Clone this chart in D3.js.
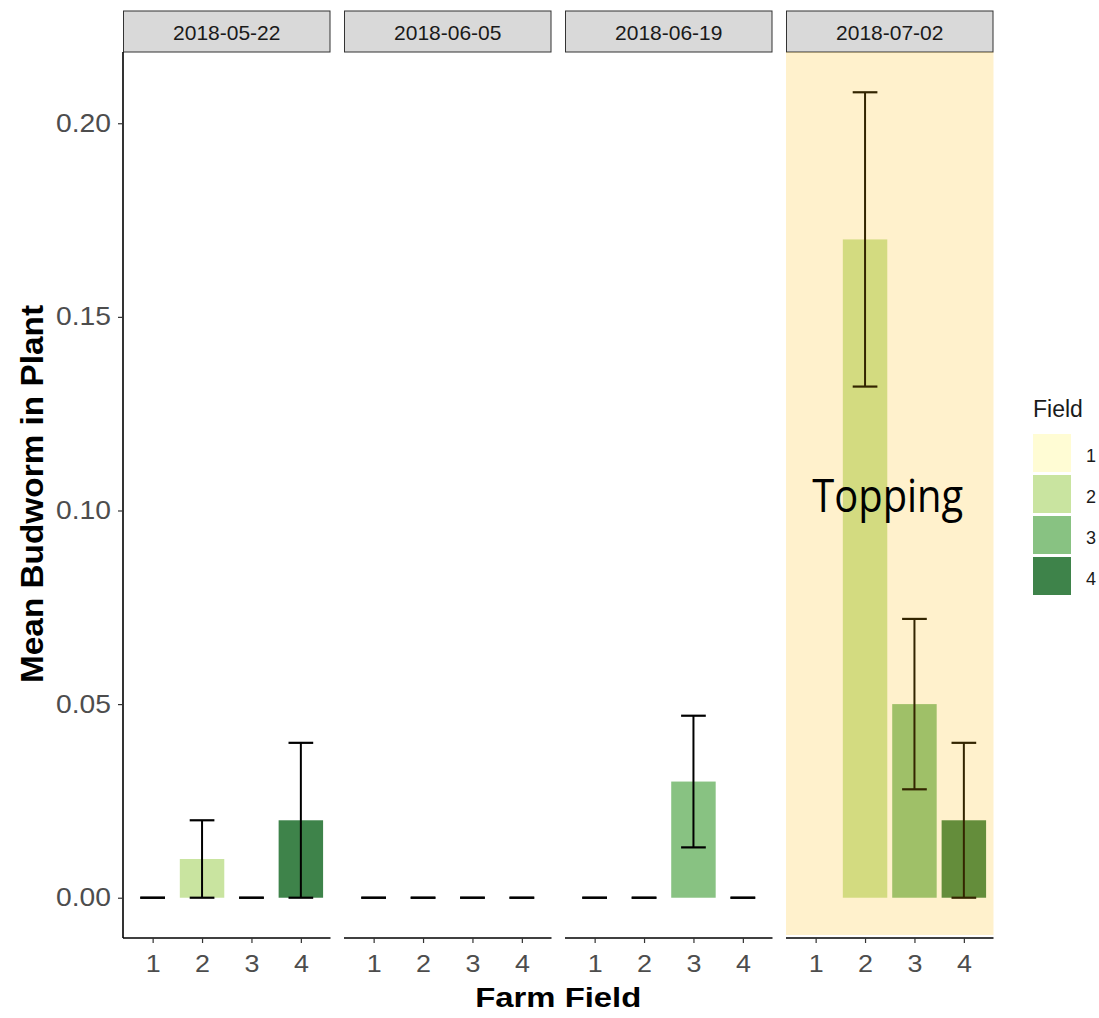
<!DOCTYPE html>
<meta charset="utf-8">
<style>
body { margin: 0; background: #fff; }
text { font-family: "Liberation Sans", Arial, sans-serif; }
</style>
<body>
<script src="https://d3js.org/d3.v7.min.js"></script>
<script>
// values
var dates = ["2018-05-22", "2018-06-05", "2018-06-19", "2018-07-02"];
var fields = ["1", "2", "3", "4"];
var fieldColors = ["#FFFCD4", "#C9E4A0", "#88C282", "#3E834A"];
var means = [[0, 0.01, 0, 0.02], [0, 0, 0, 0], [0, 0, 0.03, 0], [null, 0.17, 0.05, 0.02]];
var lower = [[0, 0, 0, 0], [0, 0, 0, 0], [0, 0, 0.013, 0], [null, 0.132, 0.028, 0]];
var upper = [[0, 0.02, 0, 0.04], [0, 0, 0, 0], [0, 0, 0.047, 0], [null, 0.208, 0.072, 0.04]];
var yTicks = [0, 0.05, 0.10, 0.15, 0.20];
var highlightPanel = 3;

var W = 1099, H = 1018;
var left = 123, panelW = 207.5, gap = 13.5;
var plotTop = 52, plotBottom = 938, stripH = 41;

var svg = d3.select("body").append("svg").attr("width", W).attr("height", H);

// the source picture is a bit wider than tall; widen text to match
function stretch(sel, k) {
  sel.each(function() {
    var w = this.getComputedTextLength();
    d3.select(this).attr("textLength", w * k).attr("lengthAdjust", "spacingAndGlyphs");
  });
}

var y = d3.scaleLinear().domain([-0.0104, 0.2184]).range([plotBottom, plotTop]);
var x = d3.scaleLinear().domain([0.4, 4.6]).range([0, panelW]);
var step = x(2) - x(1);

dates.forEach(function(date, p) {
  var g = svg.append("g").attr("transform", "translate(" + (left + p * (panelW + gap)) + ",0)");

  // strip
  g.append("rect").attr("x", 0.5).attr("y", plotTop - stripH).attr("width", panelW - 1).attr("height", stripH)
    .attr("fill", "#D9D9D9").attr("stroke", "#333").attr("stroke-width", 1);
  g.append("text").attr("x", panelW / 2).attr("y", 40)
    .attr("text-anchor", "middle").attr("font-size", 21).attr("fill", "#1A1A1A").text(date);

  var rows = fields.map(function(f, i) {
    return {f: +f, i: i, m: means[p][i], lo: lower[p][i], hi: upper[p][i]};
  }).filter(function(d) { return d.m !== null; });

  // bars
  g.selectAll(".bar").data(rows.filter(function(d) { return d.m > 0; })).enter().append("rect")
    .attr("x", function(d) { return x(d.f) - 0.45 * step; })
    .attr("width", 0.9 * step)
    .attr("y", function(d) { return y(d.m); })
    .attr("height", function(d) { return y(0) - y(d.m); })
    .attr("fill", function(d) { return fieldColors[d.i]; });

  // error bars
  var eb = g.selectAll(".eb").data(rows).enter().append("g");
  eb.append("line")
    .attr("x1", function(d) { return x(d.f); }).attr("x2", function(d) { return x(d.f); })
    .attr("y1", function(d) { return y(d.lo); }).attr("y2", function(d) { return y(d.hi); })
    .attr("stroke", "#000").attr("stroke-width", 2);
  ["lo", "hi"].forEach(function(k) {
    eb.append("line")
      .attr("x1", function(d) { return x(d.f) - 0.25 * step; })
      .attr("x2", function(d) { return x(d.f) + 0.25 * step; })
      .attr("y1", function(d) { return y(d[k]); }).attr("y2", function(d) { return y(d[k]); })
      .attr("stroke", "#000").attr("stroke-width", 2.2);
  });

  // highlight overlay
  if (p === highlightPanel) {
    g.append("rect").attr("x", 0).attr("y", plotTop).attr("width", panelW).attr("height", plotBottom - plotTop - 3)
      .attr("fill", "rgb(255,185,0)").attr("fill-opacity", 0.2);
    g.append("text").attr("x", panelW / 2 - 2).attr("y", 512)
      .attr("text-anchor", "middle").attr("font-size", 46).attr("fill", "#000")
      .attr("textLength", 151).attr("lengthAdjust", "spacingAndGlyphs")
      .style("font-family", "'Open Sans', 'Noto Sans', sans-serif").text("Topping");
  }

  // x axis
  var xa = g.append("g").attr("transform", "translate(0," + plotBottom + ")")
    .call(d3.axisBottom(x).tickValues([1, 2, 3, 4]).tickFormat(d3.format("d")).tickSize(5).tickPadding(12));
  xa.select(".domain").attr("stroke", "#000").attr("stroke-width", 1.6).attr("d", "M0,0H" + panelW);
  xa.selectAll(".tick line").attr("stroke", "#333").attr("stroke-width", 1.2);
  xa.selectAll(".tick text").attr("font-size", 24).attr("fill", "#4D4D4D")
    .style("font-family", "'Liberation Sans', Arial, sans-serif");
  stretch(xa.selectAll(".tick text"), 1.12);

  if (p === 0) {
    var ya = g.append("g")
      .call(d3.axisLeft(y).tickValues(yTicks).tickFormat(d3.format(".2f")).tickSize(5).tickPadding(7));
    ya.select(".domain").attr("stroke", "#000").attr("stroke-width", 1.6).attr("d", "M0," + plotTop + "V" + plotBottom);
    ya.selectAll(".tick line").attr("stroke", "#333").attr("stroke-width", 1.2);
    ya.selectAll(".tick text").attr("font-size", 25).attr("fill", "#4D4D4D")
      .style("font-family", "'Liberation Sans', Arial, sans-serif");
    stretch(ya.selectAll(".tick text"), 1.13);
  }
});

// axis titles
var xt = svg.append("text").attr("x", left + (4 * panelW + 3 * gap) / 2).attr("y", 1007)
  .attr("text-anchor", "middle").attr("font-size", 28).attr("font-weight", "bold").text("Farm Field");
xt.attr("textLength", 166).attr("lengthAdjust", "spacingAndGlyphs");
svg.append("text").attr("transform", "translate(43,494) rotate(-90)")
  .attr("text-anchor", "middle").attr("font-size", 31).attr("font-weight", "bold")
  .attr("textLength", 378).attr("lengthAdjust", "spacingAndGlyphs").text("Mean Budworm in Plant");

// legend
var lg = svg.append("g").attr("transform", "translate(1033,0)");
lg.append("text").attr("x", 0).attr("y", 417).attr("font-size", 23).attr("fill", "#1A1A1A").text("Field");
fields.forEach(function(f, i) {
  lg.append("rect").attr("x", 0).attr("y", 434 + i * 41).attr("width", 38).attr("height", 38)
    .attr("fill", fieldColors[i]);
  lg.append("text").attr("x", 53).attr("y", 434 + i * 41 + 28).attr("font-size", 18).attr("fill", "#1A1A1A").text(f);
});
</script>
</body>
